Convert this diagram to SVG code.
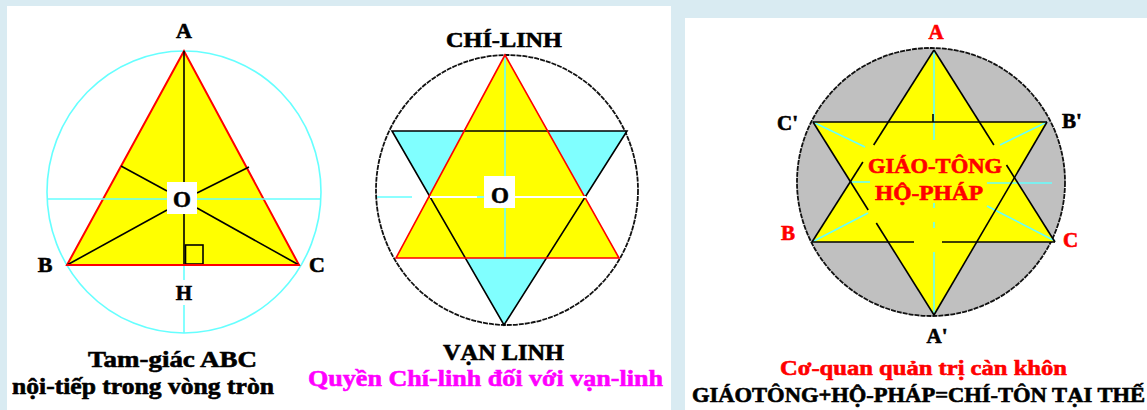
<svg xmlns="http://www.w3.org/2000/svg" width="1147" height="410" viewBox="0 0 1147 410">
<style>
.t{font-family:"Liberation Serif","Times New Roman",serif;font-weight:bold;fill:#000;stroke:#000;stroke-width:0.6}
.red{fill:#ff0000;stroke:#ff0000}
.mag{fill:#ff00ff;stroke:#ff00ff}
.blk{stroke:#000;stroke-width:1.6;fill:none}
.cy{stroke:#66ffff;stroke-width:1.6;fill:none}
.wh{stroke:#fff;stroke-width:2;fill:none}
.circ{stroke:#111;stroke-width:1.8;stroke-dasharray:5 1}
</style>
<rect width="1147" height="410" fill="#d9ebf2"/>
<rect x="7" y="6" width="664" height="404" fill="#fff"/>
<rect x="685" y="18" width="462" height="392" fill="#fff"/>

<g id="panel-left">
  <ellipse cx="184" cy="192" rx="137" ry="141" class="cy"/>
  <polygon points="184,51 67,265 299,265" fill="#ffff00" stroke="#ff0000" stroke-width="2"/>
  <g id="left-connectors">
    <line x1="47" y1="199" x2="321" y2="199" class="cy"/>
    <line x1="184" y1="266" x2="184" y2="280" class="cy"/>
    <line x1="184" y1="305" x2="184" y2="333" class="cy"/>
    <line x1="184" y1="51" x2="184" y2="265" class="blk"/>
    <line x1="121" y1="166" x2="167" y2="191" class="blk"/>
    <line x1="249" y1="167" x2="197" y2="193" class="blk"/>
    <line x1="67" y1="265" x2="167" y2="210" class="blk"/>
    <line x1="299" y1="265" x2="197" y2="208" class="blk"/>
    <rect x="185.5" y="245" width="17.5" height="19" class="blk" stroke-width="2"/>
    <line x1="67" y1="265" x2="299" y2="265" stroke="#ff0000" stroke-width="2"/>
  </g>
  <rect x="167" y="182" width="30" height="32" fill="#fff"/>
  <text class="t" x="182" y="207" font-size="23" text-anchor="middle">O</text>
  <text class="t" x="184" y="38" font-size="22" text-anchor="middle">A</text>
  <text class="t" x="45" y="272" font-size="22" text-anchor="middle">B</text>
  <text class="t" x="317" y="272" font-size="22" text-anchor="middle">C</text>
  <text class="t" x="184" y="300" font-size="21" text-anchor="middle">H</text>
  <text class="t" x="88" y="367" font-size="24" textLength="169" lengthAdjust="spacingAndGlyphs">Tam-giác ABC</text>
  <text class="t" x="12" y="394" font-size="24" textLength="262" lengthAdjust="spacingAndGlyphs">nội-tiếp trong vòng tròn</text>
</g>

<g id="panel-middle">
  <ellipse cx="507" cy="190" rx="131" ry="135" fill="#fff" class="circ"/>
  <polygon points="392,131 627,131 504,325" fill="#80ffff"/>
  <polygon points="505,55 396,258 619,258" fill="#ffff00"/>
  <g id="middle-connectors">
    <line x1="505" y1="55" x2="505" y2="258" class="cy"/>
    <polygon points="392,131 627,131 504,325" class="blk"/>
    <polygon points="505,55 396,258 619,258" fill="none" stroke="#ff0000" stroke-width="1.6"/>
    <line x1="430" y1="197" x2="586" y2="197" class="wh"/>
    <line x1="377" y1="197" x2="412" y2="197" class="cy"/>
    <line x1="477" y1="197" x2="487" y2="197" class="cy"/>
  </g>
  <rect x="484" y="176" width="31" height="32" fill="#fff"/>
  <text class="t" x="500" y="203" font-size="23" text-anchor="middle">O</text>
  <text class="t" x="446" y="47" font-size="22" textLength="116" lengthAdjust="spacingAndGlyphs">CHÍ-LINH</text>
  <text class="t" x="443" y="360" font-size="23" textLength="121" lengthAdjust="spacingAndGlyphs">VẠN LINH</text>
  <text class="t mag" x="308" y="386" font-size="24" textLength="355" lengthAdjust="spacingAndGlyphs">Quyền Chí-linh đối với vạn-linh</text>
</g>

<g id="panel-right">
  <circle cx="931" cy="182" r="134" fill="#c0c0c0" class="circ"/>
  <polygon points="934,50 812,242 1055,242" fill="#ffff00"/>
  <polygon points="813,122 1047,122 934,315" fill="#ffff00"/>
  <g id="right-connectors">
    <line x1="934" y1="50" x2="934" y2="140" class="cy"/>
    <line x1="934" y1="203" x2="934" y2="208" class="cy"/>
    <line x1="934" y1="222" x2="934" y2="228" class="cy"/>
    <line x1="934" y1="252" x2="934" y2="315" class="cy"/>
    <line x1="813" y1="122" x2="865" y2="147" class="cy"/>
    <line x1="1047" y1="122" x2="1000" y2="145" class="cy"/>
    <line x1="812" y1="242" x2="868" y2="213" class="cy"/>
    <line x1="1055" y1="241" x2="987" y2="206" class="cy"/>
    <line x1="850" y1="182" x2="870" y2="182" class="cy"/>
    <line x1="987" y1="183" x2="1052" y2="183" class="cy"/>
    <line x1="934" y1="50" x2="873.7" y2="145" class="blk"/>
    <line x1="862.9" y1="162" x2="812" y2="242" class="blk"/>
    <line x1="934" y1="50" x2="993.9" y2="145" class="blk"/>
    <line x1="1006.5" y1="165" x2="1055" y2="242" class="blk"/>
    <line x1="813" y1="122" x2="868.2" y2="210" class="blk"/>
    <line x1="876.3" y1="223" x2="934" y2="315" class="blk"/>
    <line x1="1047" y1="122" x2="934" y2="315" class="blk"/>
    <line x1="813" y1="122" x2="1047" y2="122" class="blk"/>
    <line x1="812" y1="242" x2="914" y2="242" class="blk"/>
    <line x1="942" y1="242" x2="1055" y2="242" class="blk"/>
    <line x1="933" y1="114" x2="933" y2="122" class="blk"/>
  </g>
  <text class="t red" x="868" y="173" font-size="20" textLength="134" lengthAdjust="spacingAndGlyphs">GIÁO-TÔNG</text>
  <text class="t red" x="875" y="200" font-size="20" textLength="108" lengthAdjust="spacingAndGlyphs">HỘ-PHÁP</text>
  <text class="t red" x="936" y="39" font-size="21" text-anchor="middle">A</text>
  <text class="t" x="777" y="130" font-size="21">C'</text>
  <text class="t" x="1062" y="128" font-size="21">B'</text>
  <text class="t red" x="781" y="240" font-size="21">B</text>
  <text class="t red" x="1063" y="247" font-size="21">C</text>
  <text class="t" x="937" y="343" font-size="21" text-anchor="middle">A'</text>
  <text class="t red" x="780" y="375" font-size="22" textLength="287" lengthAdjust="spacingAndGlyphs">Cơ-quan quản trị càn khôn</text>
  <text class="t" x="692" y="402" font-size="21" textLength="453" lengthAdjust="spacingAndGlyphs">GIÁOTÔNG+HỘ-PHÁP=CHÍ-TÔN TẠI THẾ</text>
</g>
</svg>
